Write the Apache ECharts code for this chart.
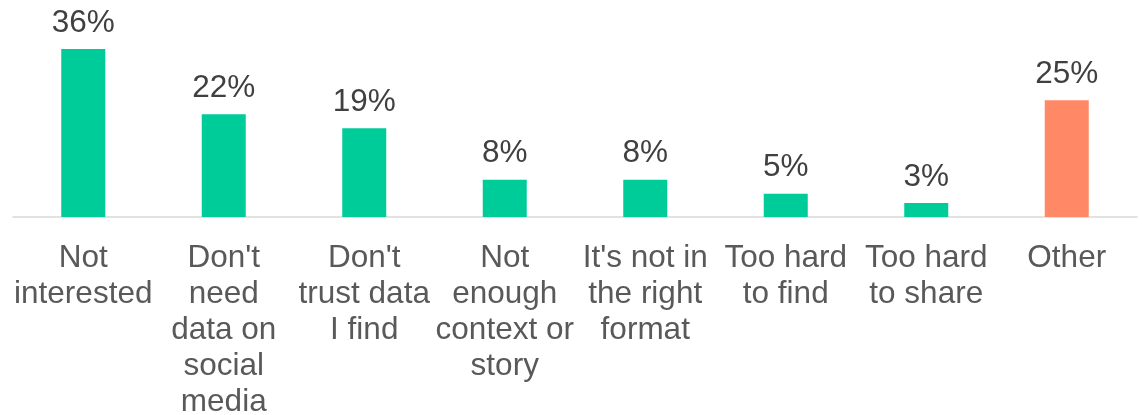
<!DOCTYPE html>
<html>
<head>
<meta charset="utf-8">
<script src="https://cdn.jsdelivr.net/npm/echarts@6/dist/echarts.min.js"></script>
<style>html,body{margin:0;padding:0;background:#fff}#c{width:1142px;height:415px}</style>
</head>
<body>
<div id="c"></div>
<script>
const categories = ["Not\ninterested", "Don't\nneed\ndata on\nsocial\nmedia", "Don't\ntrust data\nI find", "Not\nenough\ncontext or\nstory", "It's not in\nthe right\nformat", "Too hard\nto find", "Too hard\nto share", "Other"];
const values = [36, 22, 19, 8, 8, 5, 3, 25];
const barColors = ["#00CC99", "#00CC99", "#00CC99", "#00CC99", "#00CC99", "#00CC99", "#00CC99", "#FF8866"];

const chart = echarts.init(document.getElementById('c'), null, {renderer: 'canvas'});
chart.setOption({
  animation: false,
  grid: {left: 13, right: 5, top: 30.3, bottom: 415 - 217, containLabel: false, outerBoundsMode: 'none'},
  xAxis: {
    type: 'category',
    data: categories,
    axisLine: {lineStyle: {color: '#D9D9D9', width: 1.5}},
    axisTick: {show: false},
    axisLabel: {
      interval: 0,
      margin: 23,
      fontFamily: 'Liberation Sans, Arial, sans-serif',
      fontSize: 31.5,
      lineHeight: 36,
      color: '#595959'
    }
  },
  yAxis: {
    type: 'value', min: 0, max: 40, interval: 10,
    show: false,
    splitLine: {show: false}
  },
  series: [{
    type: 'bar',
    barWidth: 44,
    data: values.map((v, i) => ({value: v, itemStyle: {color: barColors[i]}})),
    label: {
      show: true,
      position: 'top',
      distance: 10,
      formatter: p => p.value + '%',
      fontFamily: 'Liberation Sans, Arial, sans-serif',
      fontSize: 31.5,
      color: '#404040'
    }
  }]
});
</script>
</body>
</html>
